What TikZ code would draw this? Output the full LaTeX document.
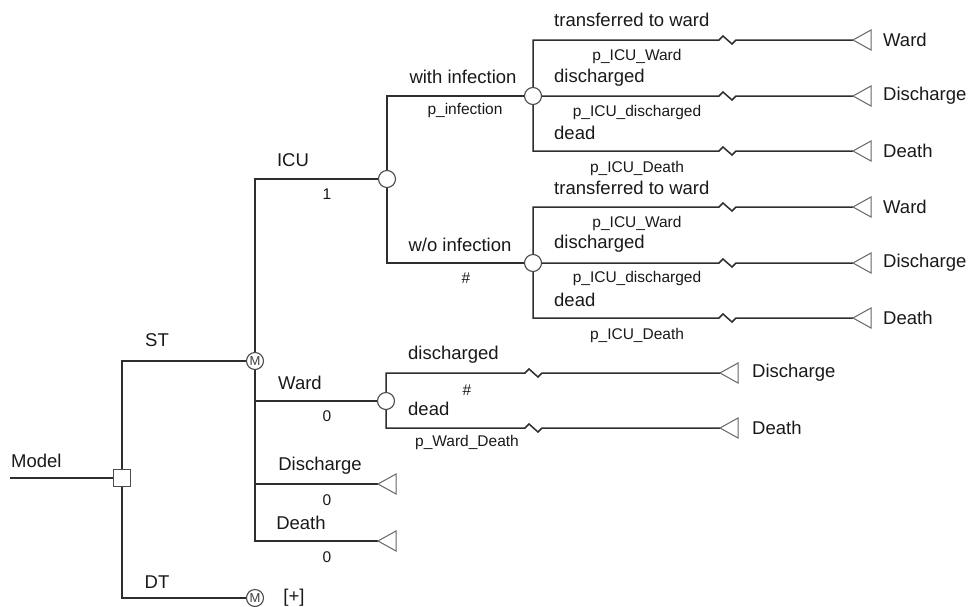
\documentclass[tikz,border=0pt]{standalone}
\usepackage{fontspec}
\setmainfont{Liberation Sans}
\usetikzlibrary{backgrounds}
\tikzset{
  br/.style={draw=black!82, line width=1.5pt},
  chance/.style={circle, draw=black!70, line width=1.1pt, fill=white, minimum size=17pt, inner sep=0pt},
  markov/.style={circle, draw=black!70, line width=1.1pt, fill=white, minimum size=17pt, inner sep=0pt, font=\fontsize{13}{13}\selectfont, text=black!75},
  decision/.style={rectangle, draw=black!70, line width=1.1pt, fill=white, minimum size=17pt, inner sep=0pt},
  lab/.style={font=\fontsize{18.5}{20}\selectfont, inner sep=0pt, text=black!90},
  prob/.style={font=\fontsize{15.5}{17}\selectfont, inner sep=0pt, text=black!90},
  term/.pic={\draw[draw=black!60, line width=1.0pt, fill=white] (0,0) -- (18,-10) -- (18,10) -- cycle;}
}
\begin{document}
\begin{tikzpicture}[x=1pt,y=-1pt]
\useasboundingbox (0,0) rectangle (970,606);
% nodes
\coordinate (start) at (10,478);
\node[decision] (D) at (122,478) {};
\node[markov] (MST) at (255,361) {M};
\node[markov] (MDT) at (255,598) {M};
\node[chance] (CICU) at (387,179) {};
\node[chance] (CW) at (386,401) {};
\node[chance] (CA) at (533,96) {};
\node[chance] (CB) at (533,263) {};
\coordinate (tD) at (378,484);
\coordinate (tDe) at (378,541);
\coordinate (ja1) at (719,40);  \coordinate (ta1) at (853,40);
\coordinate (ja2) at (719,96);  \coordinate (ta2) at (853,96);
\coordinate (ja3) at (719,151); \coordinate (ta3) at (853,151);
\coordinate (jb1) at (719,207); \coordinate (tb1) at (853,207);
\coordinate (jb2) at (719,263); \coordinate (tb2) at (853,263);
\coordinate (jb3) at (719,318); \coordinate (tb3) at (853,318);
\coordinate (jw1) at (525,373); \coordinate (tw1) at (720,373);
\coordinate (jw2) at (525,428); \coordinate (tw2) at (720,428);
% connectors
\begin{scope}[on background layer]
\draw[br] (start) -- (D.center);
\draw[br] (D.center) |- (MST.center);
\draw[br] (D.center) |- (MDT.center);
\draw[br] (MST.center) |- (CICU.center);
\draw[br] (MST.center) |- (CW.center);
\draw[br] (MST.center) |- (tD);
\draw[br] (MST.center) |- (tDe);
\draw[br] (CICU.center) |- (CA.center);
\draw[br] (CICU.center) |- (CB.center);
\draw[br] (CA.center) |- (ja1) -- ++(4,-4) -- ++(9,8) -- ++(4,-4) -- (ta1);
\draw[br] (CA.center) |- (ja2) -- ++(4,-4) -- ++(9,8) -- ++(4,-4) -- (ta2);
\draw[br] (CA.center) |- (ja3) -- ++(4,-4) -- ++(9,8) -- ++(4,-4) -- (ta3);
\draw[br] (CB.center) |- (jb1) -- ++(4,-4) -- ++(9,8) -- ++(4,-4) -- (tb1);
\draw[br] (CB.center) |- (jb2) -- ++(4,-4) -- ++(9,8) -- ++(4,-4) -- (tb2);
\draw[br] (CB.center) |- (jb3) -- ++(4,-4) -- ++(9,8) -- ++(4,-4) -- (tb3);
\draw[br] (CW.center) |- (jw1) -- ++(4,-4) -- ++(9,8) -- ++(4,-4) -- (tw1);
\draw[br] (CW.center) |- (jw2) -- ++(4,-4) -- ++(9,8) -- ++(4,-4) -- (tw2);
\end{scope}
% terminals
\pic at (tD) {term};
\pic at (tDe) {term};
\pic at (ta1) {term}; \pic at (ta2) {term}; \pic at (ta3) {term};
\pic at (tb1) {term}; \pic at (tb2) {term}; \pic at (tb3) {term};
\pic at (tw1) {term}; \pic at (tw2) {term};
% labels
\node[lab, anchor=west] (lModel) at (11,461) {Model};
\node[lab] (lST) at (157,340) {ST};
\node[lab] (lDT) at (157,582) {DT};
\node[lab] (lplus) at (294,598) {[+]};
\node[lab] (lICU) at (293,160) {ICU};
\node[prob] (p1) at (327,194) {1};
\node[lab] (lWard) at (300,383) {Ward};
\node[prob] (p0a) at (327,416) {0};
\node[lab] (lDis) at (320,466) {Discharge};
\node[prob] (p0b) at (327,500) {0};
\node[lab] (lDea) at (301,523) {Death};
\node[prob] (p0c) at (327,557) {0};
\node[lab] (lwith) at (463,77) {with infection};
\node[prob] (pinf) at (465,110) {p\_infection};
\node[lab] (lwo) at (460,245) {w/o infection};
\node[prob] (phash) at (466,278) {\#};
% upper ICU subtree
\node[lab, anchor=west] (ua1) at (554,20) {transferred to ward};
\node[prob] (up1) at (637,56) {p\_ICU\_Ward};
\node[lab, anchor=west] (ua2) at (554,78) {discharged};
\node[prob] (up2) at (637,112) {p\_ICU\_discharged};
\node[lab, anchor=west] (ua3) at (554,133) {dead};
\node[prob] (up3) at (637,168) {p\_ICU\_Death};
% lower ICU subtree
\node[lab, anchor=west] (la1) at (554,188) {transferred to ward};
\node[prob] (lp1) at (637,223) {p\_ICU\_Ward};
\node[lab, anchor=west] (la2) at (554,244) {discharged};
\node[prob] (lp2) at (637,278) {p\_ICU\_discharged};
\node[lab, anchor=west] (la3) at (554,300) {dead};
\node[prob] (lp3) at (637,335) {p\_ICU\_Death};
% ward subtree
\node[lab, anchor=west] (wa1) at (408,355) {discharged};
\node[prob] (wp1) at (467,390) {\#};
\node[lab, anchor=west] (wa2) at (408,409) {dead};
\node[prob] (wp2) at (467,442) {p\_Ward\_Death};
% end labels
\node[lab, anchor=west] (ea1) at (883,40) {Ward};
\node[lab, anchor=west] (ea2) at (883,96) {Discharge};
\node[lab, anchor=west] (ea3) at (883,151) {Death};
\node[lab, anchor=west] (eb1) at (883,207) {Ward};
\node[lab, anchor=west] (eb2) at (883,263) {Discharge};
\node[lab, anchor=west] (eb3) at (883,318) {Death};
\node[lab, anchor=west] (ew1) at (752,373) {Discharge};
\node[lab, anchor=west] (ew2) at (752,428) {Death};
\end{tikzpicture}
\end{document}
